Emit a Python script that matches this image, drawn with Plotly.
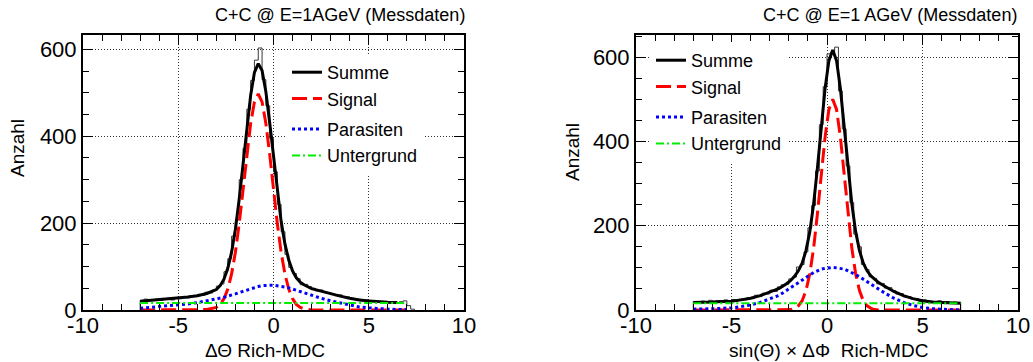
import plotly.graph_objects as go

W, H = 1033, 362

# ---------------- left panel: Delta Theta (Rich - MDC) ----------------
theta_x = [-7.0, -6.5, -6.0, -5.5, -5.0, -4.5, -4.0, -3.5,
           -3.0, -2.8, -2.6, -2.4, -2.2, -2.0, -1.8, -1.6, -1.4, -1.2, -1.0, -0.8,
           -0.6, -0.4, -0.2, 0.0, 0.2, 0.4, 0.6, 0.8, 1.0, 1.2, 1.4, 1.6,
           2.0, 2.5, 3.0, 3.5, 4.0, 4.5, 5.0, 5.5, 6.0, 6.5, 7.0]
theta_summe = [20, 22, 23, 25, 27, 30, 33, 38,
               47, 56, 71, 96, 133, 186, 255, 336, 420, 494, 547, 567,
               551, 502, 431, 350, 271, 204, 152, 115, 90, 74, 64, 58,
               49, 43, 37, 32, 27, 23, 21, 19, 18, 17]
theta_signal = [0, 0, 0, 0, 0, 0, 0, 1,
                6, 13, 26, 48, 83, 133, 199, 277, 358, 429, 479, 497,
                479, 429, 358, 277, 199, 133, 83, 48, 26, 13, 6, 3,
                0, 0, 0, 0, 0, 0, 0, 0, 0, 0, 0]
theta_parasiten = [4, 6, 7, 9, 11, 14, 17, 21,
                   25, 27, 29, 32, 34, 37, 40, 43, 46, 49, 52, 54,
                   56, 57, 57, 57, 56, 55, 53, 51, 48, 45, 42, 39,
                   33, 27, 21, 16, 11, 7, 5, 3, 2, 1, 1]
theta_untergrund_x = [-7.0, 7.0]
theta_untergrund = [16, 16]

# measured counts, 0.2 wide bins starting at -7.0
theta_hist = [22, 25, 24, 23, 25, 22, 26, 24, 23, 28,
              26, 30, 28, 33, 31, 36, 34, 41, 39, 46,
              55, 60, 88, 118, 170, 208, 300, 372, 462, 528,
              575, 603, 530, 470, 395, 318, 243, 180, 128, 98,
              84, 72, 58, 59, 54, 50, 44, 46, 42, 40,
              37, 33, 35, 31, 30, 27, 26, 25, 21, 23,
              20, 22, 18, 20, 19, 17, 18, 16, 19, 21,
              10, 2]

# ---------------- right panel: sin(Theta) x Delta Phi ----------------
phi_x = [-7.0, -6.5, -6.0, -5.5, -5.0, -4.5, -4.0, -3.5, -3.0, -2.5,
         -2.1, -1.9, -1.7, -1.5, -1.3, -1.1, -0.9, -0.7, -0.5, -0.3, -0.1, 0.1, 0.3,
         0.5, 0.7, 0.9, 1.1, 1.3, 1.5, 1.7, 1.9, 2.1, 2.3, 2.5, 2.7,
         3.0, 3.5, 4.0, 4.5, 5.0, 5.5, 6.0, 6.5, 7.0]
phi_summe = [18, 18, 19, 20, 21, 24, 28, 34, 42, 51,
             63, 70, 80, 93, 111, 141, 186, 252, 338, 435, 526, 592, 617,
             592, 526, 435, 338, 252, 186, 141, 111, 93, 81, 72, 65,
             57, 44, 34, 27, 22, 19, 18, 17, 16]
phi_signal = [0, 0, 0, 0, 0, 0, 0, 0, 0, 0,
              0, 1, 4, 10, 22, 46, 86, 147, 229, 322, 411, 476, 500,
              476, 411, 322, 229, 147, 86, 46, 22, 10, 4, 1, 0,
              0, 0, 0, 0, 0, 0, 0, 0, 0]
phi_parasiten = [2, 2, 3, 4, 5, 8, 12, 18, 26, 35,
                 47, 53, 60, 67, 73, 79, 84, 89, 93, 97, 99, 100, 101,
                 100, 99, 97, 93, 89, 84, 79, 73, 67, 61, 55, 49,
                 41, 28, 18, 11, 6, 3, 2, 1, 0]
phi_untergrund_x = [-7.0, 7.0]
phi_untergrund = [16, 16]

phi_hist = [20, 16, 21, 19, 23, 18, 22, 19, 24, 20,
            25, 22, 26, 24, 29, 27, 35, 32, 40, 38,
            47, 44, 55, 60, 61, 74, 78, 102, 108, 138,
            195, 248, 330, 440, 530, 608, 612, 624, 520, 430,
            342, 255, 180, 150, 108, 96, 79, 75, 62, 63,
            52, 53, 46, 38, 39, 31, 32, 26, 27, 21,
            24, 19, 21, 18, 22, 17, 20, 16, 19, 18]

HIST_START = -7.0
HIST_BIN = 0.2

x_ticks = [-10, -5, 0, 5, 10]
x_tick_text = ["-10", "-5", "0", "5", "10"]
y_ticks = [0, 200, 400, 600]
y_tick_text = ["0", "200", "400", "600"]

FONT = "Liberation Sans, Arial, sans-serif"


def step_outline(counts, start, width):
    """Outline of a histogram drawn as a single step line."""
    xs = [start]
    ys = [0]
    for i, v in enumerate(counts):
        xs.append(start + i * width)
        ys.append(v)
    xs.append(start + len(counts) * width)
    ys.append(0)
    return xs, ys


fig = go.Figure()


def add_panel(xa, ya, legend, xs, summe, signal, parasiten, ug_x, ug, hist):
    hx, hy = step_outline(hist, HIST_START, HIST_BIN)
    fig.add_trace(go.Scatter(x=hx, y=hy, mode="lines", line=dict(color="#3a3a3a", width=1, shape="hv"),
                             showlegend=False, hoverinfo="skip", xaxis=xa, yaxis=ya))
    fig.add_trace(go.Scatter(x=xs[:len(summe)], y=summe, mode="lines", name="Summe",
                             line=dict(color="black", width=3), legend=legend, legendgroup=legend + "a",
                             xaxis=xa, yaxis=ya))
    fig.add_trace(go.Scatter(x=xs, y=signal, mode="lines", name="Signal",
                             line=dict(color="#ff0000", width=3, dash="15px,6px"), legend=legend,
                             legendgroup=legend + "a", xaxis=xa, yaxis=ya))
    fig.add_trace(go.Scatter(x=xs, y=parasiten, mode="lines", name="Parasiten",
                             line=dict(color="#0000ff", width=3, dash="3px,3px"), legend=legend,
                             legendgroup=legend + "b", xaxis=xa, yaxis=ya))
    fig.add_trace(go.Scatter(x=ug_x, y=ug, mode="lines", name="Untergrund",
                             line=dict(color="#00ee00", width=2, dash="8px,3px,2px,3px"), legend=legend,
                             legendgroup=legend + "b", xaxis=xa, yaxis=ya))


add_panel("x", "y", "legend", theta_x, theta_summe, theta_signal, theta_parasiten,
          theta_untergrund_x, theta_untergrund, theta_hist)
add_panel("x2", "y2", "legend2", phi_x, phi_summe, phi_signal, phi_parasiten,
          phi_untergrund_x, phi_untergrund, phi_hist)

y_dom = [(H - 310) / H, (H - 34.5) / H]


def x_axis(domain, anchor):
    return dict(domain=domain, anchor=anchor, range=[-10, 10], automargin=False,
                showline=True, linecolor="black", linewidth=2, mirror="allticks",
                ticks="inside", ticklen=10, tickwidth=1, tickcolor="black",
                tickmode="array", tickvals=x_ticks, ticktext=x_tick_text,
                tickfont=dict(size=22, family=FONT, color="black"), ticklabelstandoff=-5,
                showgrid=True, gridcolor="#333333", gridwidth=1, griddash="1px,2px",
                zeroline=False,
                minor=dict(ticks="inside", ticklen=6, tickwidth=1, tickcolor="black",
                           tickmode="linear", tick0=0, dtick=1, showgrid=False))


def y_axis(anchor, top):
    return dict(domain=y_dom, anchor=anchor, range=[0, top], automargin=False,
                showline=True, linecolor="black", linewidth=2, mirror="allticks",
                ticks="inside", ticklen=10, tickwidth=1, tickcolor="black",
                tickmode="array", tickvals=y_ticks, ticktext=y_tick_text,
                tickfont=dict(size=22, family=FONT, color="black"),
                showgrid=True, gridcolor="#333333", gridwidth=1, griddash="1px,2px",
                zeroline=False,
                minor=dict(ticks="inside", ticklen=6, tickwidth=1, tickcolor="black",
                           tickmode="linear", tick0=0, dtick=50, showgrid=False))


legend_common = dict(xanchor="left", yanchor="top", bgcolor="white", borderwidth=0,
                     font=dict(family=FONT, size=18, color="black"),
                     traceorder="grouped", tracegroupgap=4, itemwidth=30)

fig.update_layout(
    template="none",
    width=W, height=H, margin=dict(l=0, r=0, t=0, b=0, pad=0, autoexpand=False),
    paper_bgcolor="white", plot_bgcolor="white",
    font=dict(family=FONT, size=20, color="black"),
    xaxis=x_axis([83 / W, 464 / W], "y"),
    yaxis=y_axis("x", 634),
    xaxis2=x_axis([636 / W, 1018 / W], "y2"),
    yaxis2=y_axis("x2", 654),
    legend=dict(x=287 / W, y=1 - 54 / H, **legend_common),
    legend2=dict(x=651 / W, y=1 - 42 / H, **legend_common),
)

annots = [
    dict(text="C+C @ E=1AGeV (Messdaten)", x=467 / W, y=1 - 15 / H, xanchor="right", yanchor="middle",
         font=dict(size=18)),
    dict(text="C+C @ E=1 AGeV (Messdaten)", x=1019 / W, y=1 - 15 / H, xanchor="right", yanchor="middle",
         font=dict(size=18)),
    dict(text="ΔΘ Rich-MDC", x=265 / W, y=1 - 350 / H, xanchor="center", yanchor="middle",
         font=dict(size=19)),
    dict(text="sin(Θ) × ΔΦ  Rich-MDC", x=828 / W, y=1 - 350 / H, xanchor="center", yanchor="middle",
         font=dict(size=19)),
    dict(text="Anzahl", x=17 / W, y=1 - 148 / H, xanchor="center", yanchor="middle", textangle=-90,
         font=dict(size=19)),
    dict(text="Anzahl", x=572 / W, y=1 - 152 / H, xanchor="center", yanchor="middle", textangle=-90,
         font=dict(size=19)),
]
for a in annots:
    fig.add_annotation(xref="paper", yref="paper", showarrow=False, **a)

fig.write_html("out.html")
